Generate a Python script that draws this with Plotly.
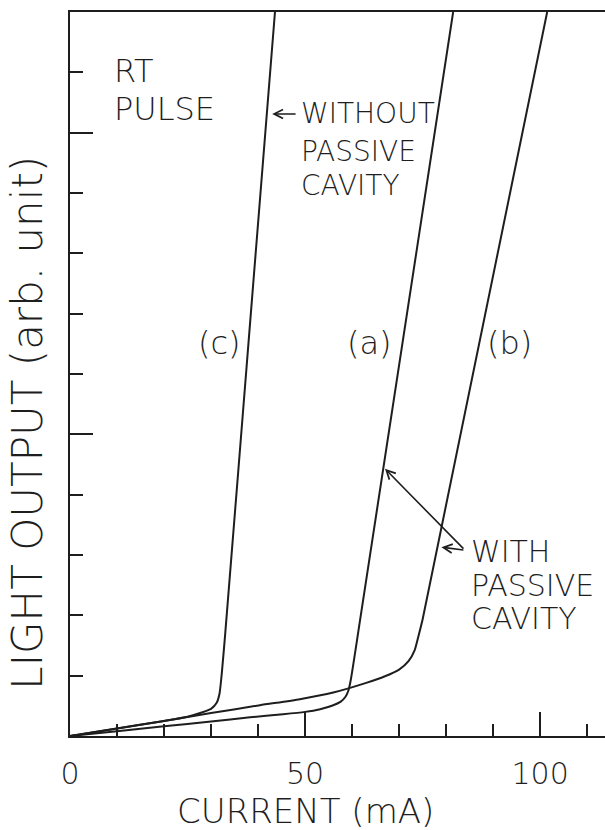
import plotly.graph_objects as go

# Light output vs. drive current, room-temperature pulsed operation
# (a), (b): lasers with passive cavity; (c): laser without passive cavity
a_current = [0, 10, 20, 30, 38.3, 45.3, 50, 53, 56, 57.6, 58.6, 59.2, 59.7, 61.7, 81.5]
a_light = [0, 0.08, 0.16, 0.24, 0.31, 0.36, 0.40, 0.44, 0.51, 0.57, 0.65, 0.75, 0.92, 1.92, 12]

b_current = [0, 10, 20, 30, 40.4, 48.9, 56, 63, 67, 70, 72, 73.3, 74.1, 75.0, 101.5]
b_light = [0, 0.125, 0.25, 0.38, 0.51, 0.61, 0.72, 0.88, 0.99, 1.10, 1.24, 1.42, 1.65, 1.93, 12]

c_current = [0, 10, 20, 25, 28, 30, 31.2, 31.8, 32.3, 33.0, 38.0, 43.6]
c_light = [0, 0.125, 0.25, 0.32, 0.39, 0.45, 0.55, 0.70, 1.05, 1.68, 6.55, 12]

x_ticks = [0, 50, 100]
x_tick_text = ["0", "50", "100"]

INK = "#1e1e1e"
FONT = "DejaVu Sans"
WEIGHT = 200

fig = go.Figure()
for xs, ys in [(a_current, a_light), (b_current, b_light), (c_current, c_light)]:
    fig.add_trace(go.Scatter(
        x=xs, y=ys, mode="lines",
        line=dict(color=INK, width=2, shape="spline", smoothing=0.6),
        showlegend=False, hoverinfo="skip",
    ))

fig.update_layout(
    width=605, height=830,
    margin=dict(l=70, r=0, t=12, b=94),
    paper_bgcolor="white", plot_bgcolor="white",
    font=dict(family=FONT, color=INK, weight=WEIGHT),
    xaxis=dict(
        range=[0, 113.8], showgrid=False, zeroline=False,
        showline=True, linecolor=INK, linewidth=2, mirror=True,
        tickmode="array", tickvals=x_ticks, ticktext=x_tick_text,
        ticks="inside", ticklen=24, tickwidth=2, tickcolor=INK,
        ticklabelstandoff=10,
        tickfont=dict(size=30, family=FONT, color=INK, weight=WEIGHT),
        minor=dict(tickmode="linear", tick0=0, dtick=10, ticks="inside",
                   ticklen=12, tickwidth=2, tickcolor=INK),
    ),
    yaxis=dict(
        range=[0, 12], showgrid=False, zeroline=False,
        showline=True, linecolor=INK, linewidth=2,
        tickmode="linear", tick0=0, dtick=5,
        ticks="inside", ticklen=23, tickwidth=2, tickcolor=INK,
        showticklabels=False,
        minor=dict(tickmode="linear", tick0=0, dtick=1, ticks="inside",
                   ticklen=13, tickwidth=2, tickcolor=INK),
    ),
)

def label(text, x, y, size, xanchor="left"):
    fig.add_annotation(x=x, y=y, xref="x", yref="y", text=text, showarrow=False,
                       xanchor=xanchor, yanchor="middle",
                       font=dict(size=size, family=FONT, color=INK, weight=WEIGHT))

def arrow(x_tail, y_tail, x_head, y_head):
    fig.add_annotation(x=x_head, y=y_head, ax=x_tail, ay=y_tail,
                       xref="x", yref="y", axref="x", ayref="y",
                       text="", showarrow=True, arrowhead=5, arrowsize=1.1,
                       arrowwidth=1.6, arrowcolor=INK)

# Axis titles
fig.add_annotation(x=50, y=-0.104, xref="x", yref="paper", text="CURRENT (mA)",
                   showarrow=False, xanchor="center", yanchor="middle",
                   font=dict(size=34, family=FONT, color=INK, weight=WEIGHT))
fig.add_annotation(x=-0.08, y=0.433, xref="paper", yref="paper",
                   text="LIGHT OUTPUT (arb. unit)", textangle=-90,
                   showarrow=False, xanchor="center", yanchor="middle",
                   font=dict(size=42, family=FONT, color=INK, weight=WEIGHT))

# Operating condition
label("RT", 8.9, 11.02, 32)
label("PULSE", 8.9, 10.39, 32)

# Curve identifiers
label("(c)", 31.9, 6.51, 32, "center")
label("(a)", 63.8, 6.51, 32, "center")
label("(b)", 93.4, 6.51, 32, "center")

# Device without passive cavity
label("WITHOUT", 48.7, 10.31, 28)
label("PASSIVE", 48.7, 9.68, 28)
label("CAVITY", 48.7, 9.12, 28)
arrow(48.3, 10.31, 43.0, 10.31)

# Devices with passive cavity
label("WITH", 84.9, 3.05, 30)
label("PASSIVE", 84.9, 2.50, 30)
label("CAVITY", 84.9, 1.95, 30)
arrow(84.0, 3.08, 67.0, 4.43)
arrow(84.0, 3.08, 79.0, 3.13)

fig.write_html("out.html")
